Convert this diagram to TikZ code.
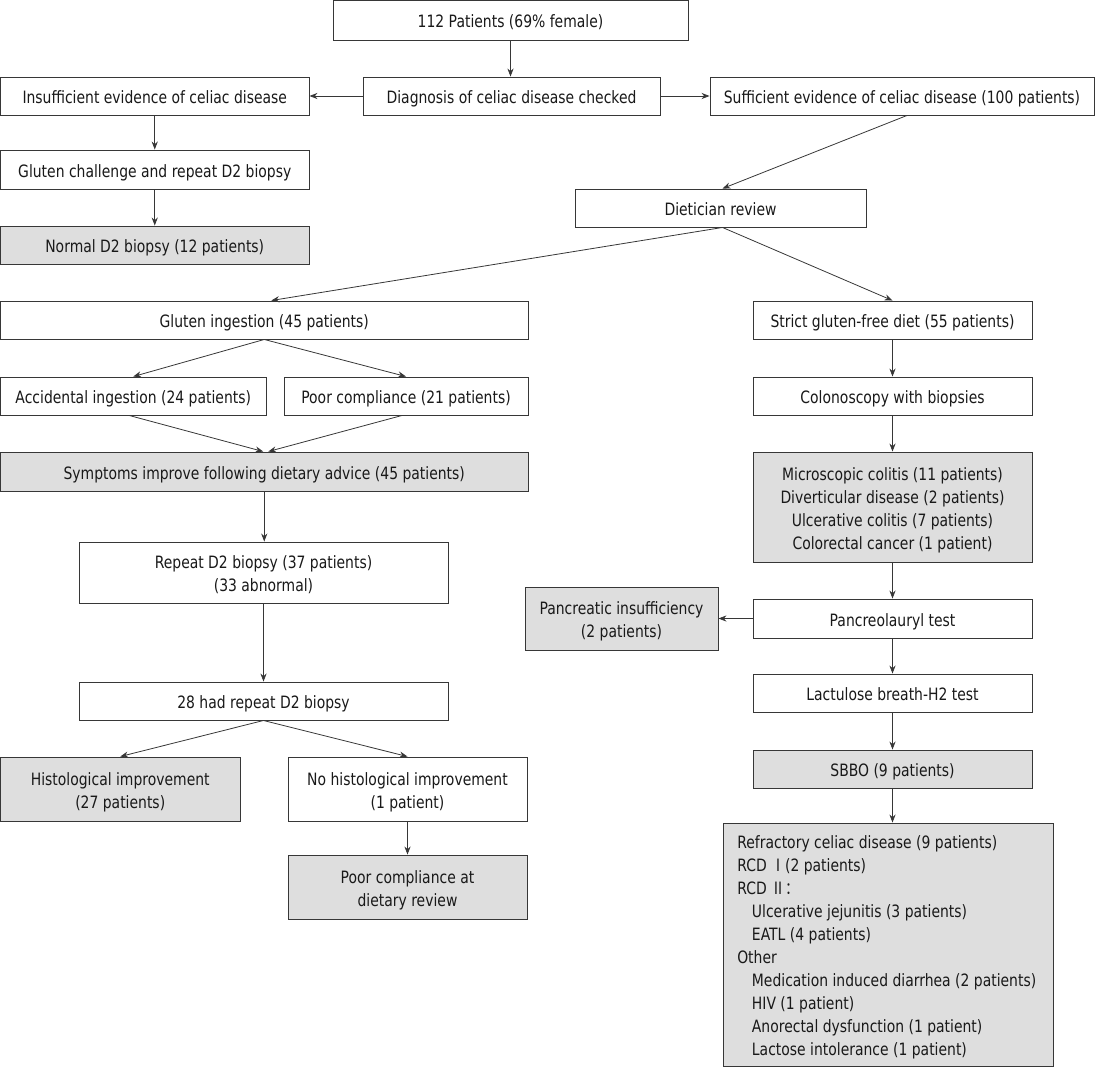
\documentclass[tikz,border=0pt]{standalone}
\usepackage{fontspec}
\setmainfont[FakeStretch=0.82]{DejaVu Sans}
\newfontfamily\cjkfont[FakeStretch=0.82]{Noto Sans CJK SC}
\usetikzlibrary{arrows.meta,calc}
\definecolor{boxgray}{RGB}{222,222,222}
\definecolor{linegray}{RGB}{55,55,55}
\definecolor{txt}{RGB}{25,25,25}
\newcommand\bx[7]{\node[#6, minimum width={(#4-#2)*0.75pt}, minimum height={(#5-#3)*0.75pt}] (#1) at ({(#2+#4)/2},{(#3+#5)/2}) {#7};}
\tikzset{
  plain/.style={draw=linegray, line width=0.7pt, fill=white, inner sep=0pt, align=center, text=txt,
    font=\fontsize{12.75pt}{17.2pt}\selectfont, text height=11.5pt, text depth=0pt},
  lines/.style={text height={11.5pt+(#1-1)*17.2pt}},
  shaded/.style={plain, fill=boxgray},
  arr/.style={draw=linegray, line width=0.6pt, -{Stealth[length=6pt,width=4.6pt]}}
}
\begin{document}
\begin{tikzpicture}[x=0.75pt,y=-0.75pt]
\useasboundingbox (0,0) rectangle (1102,1067);
\bx{A}{333}{0.5}{688}{40}{plain}{112 Patients (69\% female)}
\bx{B}{363}{77}{660}{115}{plain}{Diagnosis of celiac disease checked}
\bx{C}{0.5}{77}{309}{115}{plain}{Insufficient evidence of celiac disease}
\bx{D}{710}{77}{1094}{115}{plain}{Sufficient evidence of celiac disease (100 patients)}
\bx{E}{0.5}{150}{309}{189}{plain}{Gluten challenge and repeat D2 biopsy}
\bx{F}{0.5}{226}{309}{264}{shaded}{Normal D2 biopsy (12 patients)}
\bx{G}{575}{189}{866}{227}{plain}{Dietician review}
\bx{H}{0.5}{301}{528}{339}{plain}{Gluten ingestion (45 patients)}
\bx{I}{753}{301}{1032}{339}{plain}{Strict gluten-free diet (55 patients)}
\bx{J}{0.5}{377}{266}{415}{plain}{Accidental ingestion (24 patients)}
\bx{K}{284}{377}{528}{415}{plain}{Poor compliance (21 patients)}
\bx{L}{753}{377}{1032}{415}{plain}{Colonoscopy with biopsies}
\bx{M}{0.5}{452}{528}{491}{shaded}{Symptoms improve following dietary advice (45 patients)}
\bx{N}{753}{452}{1032}{562}{shaded,lines=4}{Microscopic colitis (11 patients)\\Diverticular disease (2 patients)\\Ulcerative colitis (7 patients)\\Colorectal cancer (1 patient)}
\bx{O}{79}{542}{448}{603}{plain,lines=2}{Repeat D2 biopsy (37 patients)\\(33 abnormal)}
\bx{P}{525}{587}{718}{650}{shaded,lines=2}{Pancreatic insufficiency\\(2 patients)}
\bx{Q}{753}{599}{1032}{638}{plain}{Pancreolauryl test}
\bx{R}{753}{674}{1032}{712}{plain}{Lactulose breath-H2 test}
\bx{S}{79}{682}{448}{720}{plain}{28 had repeat D2 biopsy}
\bx{T}{753}{750}{1032}{788}{shaded}{SBBO (9 patients)}
\bx{U}{0.5}{757}{240}{821}{shaded,lines=2}{Histological improvement\\(27 patients)}
\bx{V}{288}{757}{527}{821}{plain,lines=2}{No histological improvement\\(1 patient)}
\bx{W}{288}{855}{527}{919}{shaded,lines=2}{Poor compliance at\\dietary review}
\bx{X}{723}{823}{1053}{1066}{shaded}{}
\node[align=left, inner sep=0pt, anchor=base west, text=txt, font=\fontsize{12.75pt}{17.2pt}\selectfont] (Xt) at (737,1055)
 {Refractory celiac disease (9 patients)\\
  RCD {\cjkfont Ⅰ}(2 patients)\\
  RCD {\cjkfont Ⅱ：}\\
  \hspace*{11pt}Ulcerative jejunitis (3 patients)\\
  \hspace*{11pt}EATL (4 patients)\\
  Other\\
  \hspace*{11pt}Medication induced diarrhea (2 patients)\\
  \hspace*{11pt}HIV (1 patient)\\
  \hspace*{11pt}Anorectal dysfunction (1 patient)\\
  \hspace*{11pt}Lactose intolerance (1 patient)};
% connectors
\draw[arr] (A.south) -- (A.south |- B.north);
\draw[arr] (B.west) -- (C.east);
\draw[arr] (B.east) -- (D.west);
\draw[arr] (C.south) -- (E.north);
\draw[arr] (E.south) -- (F.north);
\draw[arr] ($(D.south)+(5,0)$) -- ($(G.north)+(2,0)$);
\draw[arr] ($(G.south)+(2,0)$) -- ($(H.north)+(7,0)$);
\draw[arr] ($(G.south)+(2,0)$) -- (I.north);
\draw[arr] (H.south) -- (J.north);
\draw[arr] (H.south) -- (K.north);
\draw[arr] ($(J.south)+(-4,0)$) -- ($(M.north)+(-1,0)$);
\draw[arr] ($(K.south)+(-4,0)$) -- ($(M.north)+(4,0)$);
\draw[arr] (M.south) -- (M.south |- O.north);
\draw[arr] (O.south) -- (O.south |- S.north);
\draw[arr] (S.south) -- (U.north);
\draw[arr] (S.south) -- (V.north);
\draw[arr] (V.south) -- (W.north);
\draw[arr] (I.south) -- (L.north);
\draw[arr] (L.south) -- (N.north);
\draw[arr] (N.south) -- (Q.north);
\draw[arr] (Q.west) -- (P.east);
\draw[arr] (Q.south) -- (R.north);
\draw[arr] (R.south) -- (T.north);
\draw[arr] (T.south) -- (T.south |- X.north);
\end{tikzpicture}
\end{document}
